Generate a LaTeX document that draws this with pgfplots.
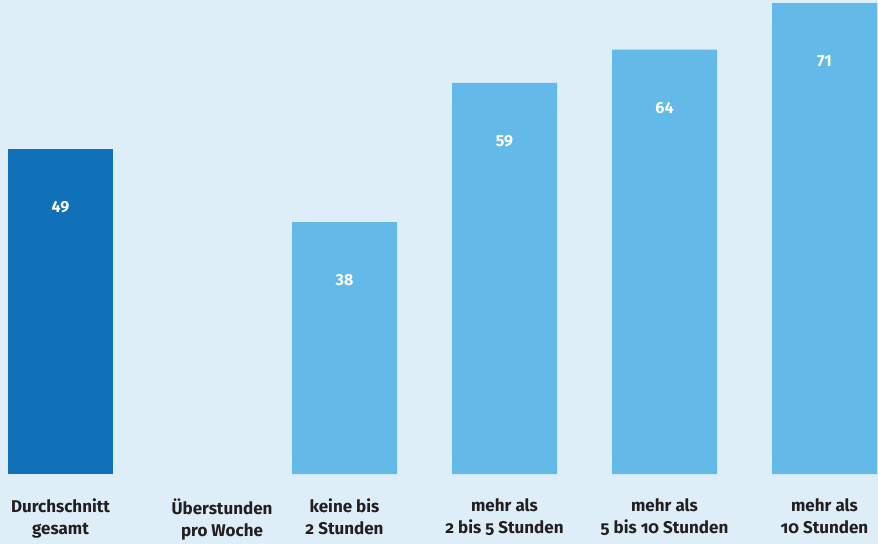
\documentclass[border=0pt]{standalone}
\usepackage{fontspec}
\setmainfont{Fira Sans}[RawFeature={+onum}]
\newfontfamily\valfont{Fira Sans}[Numbers=Lining]
\usepackage{pgfplots}
\pgfplotsset{compat=1.18}
\definecolor{bg}{HTML}{DEEEF9}
\definecolor{darkbar}{HTML}{1071B9}
\definecolor{lightbar}{HTML}{63B9E8}
\definecolor{txt}{HTML}{231F20}
\begin{document}
\begin{tikzpicture}
\fill[bg] (0,-70bp) rectangle (878bp,474bp);
\useasboundingbox (0,-70bp) rectangle (878bp,474bp);
\begin{axis}[
  at={(0,0)}, anchor=origin,
  scale only axis, width=878bp, height=474bp,
  xmin=0, xmax=878, ymin=0, ymax=71.49,
  axis line style={draw=none},
  ytick=\empty,
  xtick={60.5,222,344.5,504.5,664.5,824.5},
  xticklabels={Durchschnitt\\gesamt, Überstunden\\pro Woche, keine bis\\2 Stunden, mehr als\\2 bis 5 Stunden, mehr als\\5 bis 10 Stunden, mehr als\\10 Stunden},
  xticklabel style={align=center, font=\fontsize{17bp}{22bp}\selectfont\bfseries, text=txt, yshift=-21bp},
  major tick length=0pt,
  ybar, bar width=105, bar shift=0pt,
  /pgf/number format/assume math mode=true,
  nodes near coords={\valfont\bfseries\pgfmathprintnumber{\pgfplotspointmeta}},
  every node near coord/.append style={anchor=center, yshift=-58bp, text=white, font=\valfont\fontsize{16bp}{18bp}\selectfont\bfseries},
  clip=false,
]
\addplot[fill=darkbar, draw=none] coordinates {(60.5,49)};
\addplot[fill=lightbar, draw=none] coordinates {(344.5,38) (504.5,59) (664.5,64) (824.5,71)};
\end{axis}
\end{tikzpicture}
\end{document}
